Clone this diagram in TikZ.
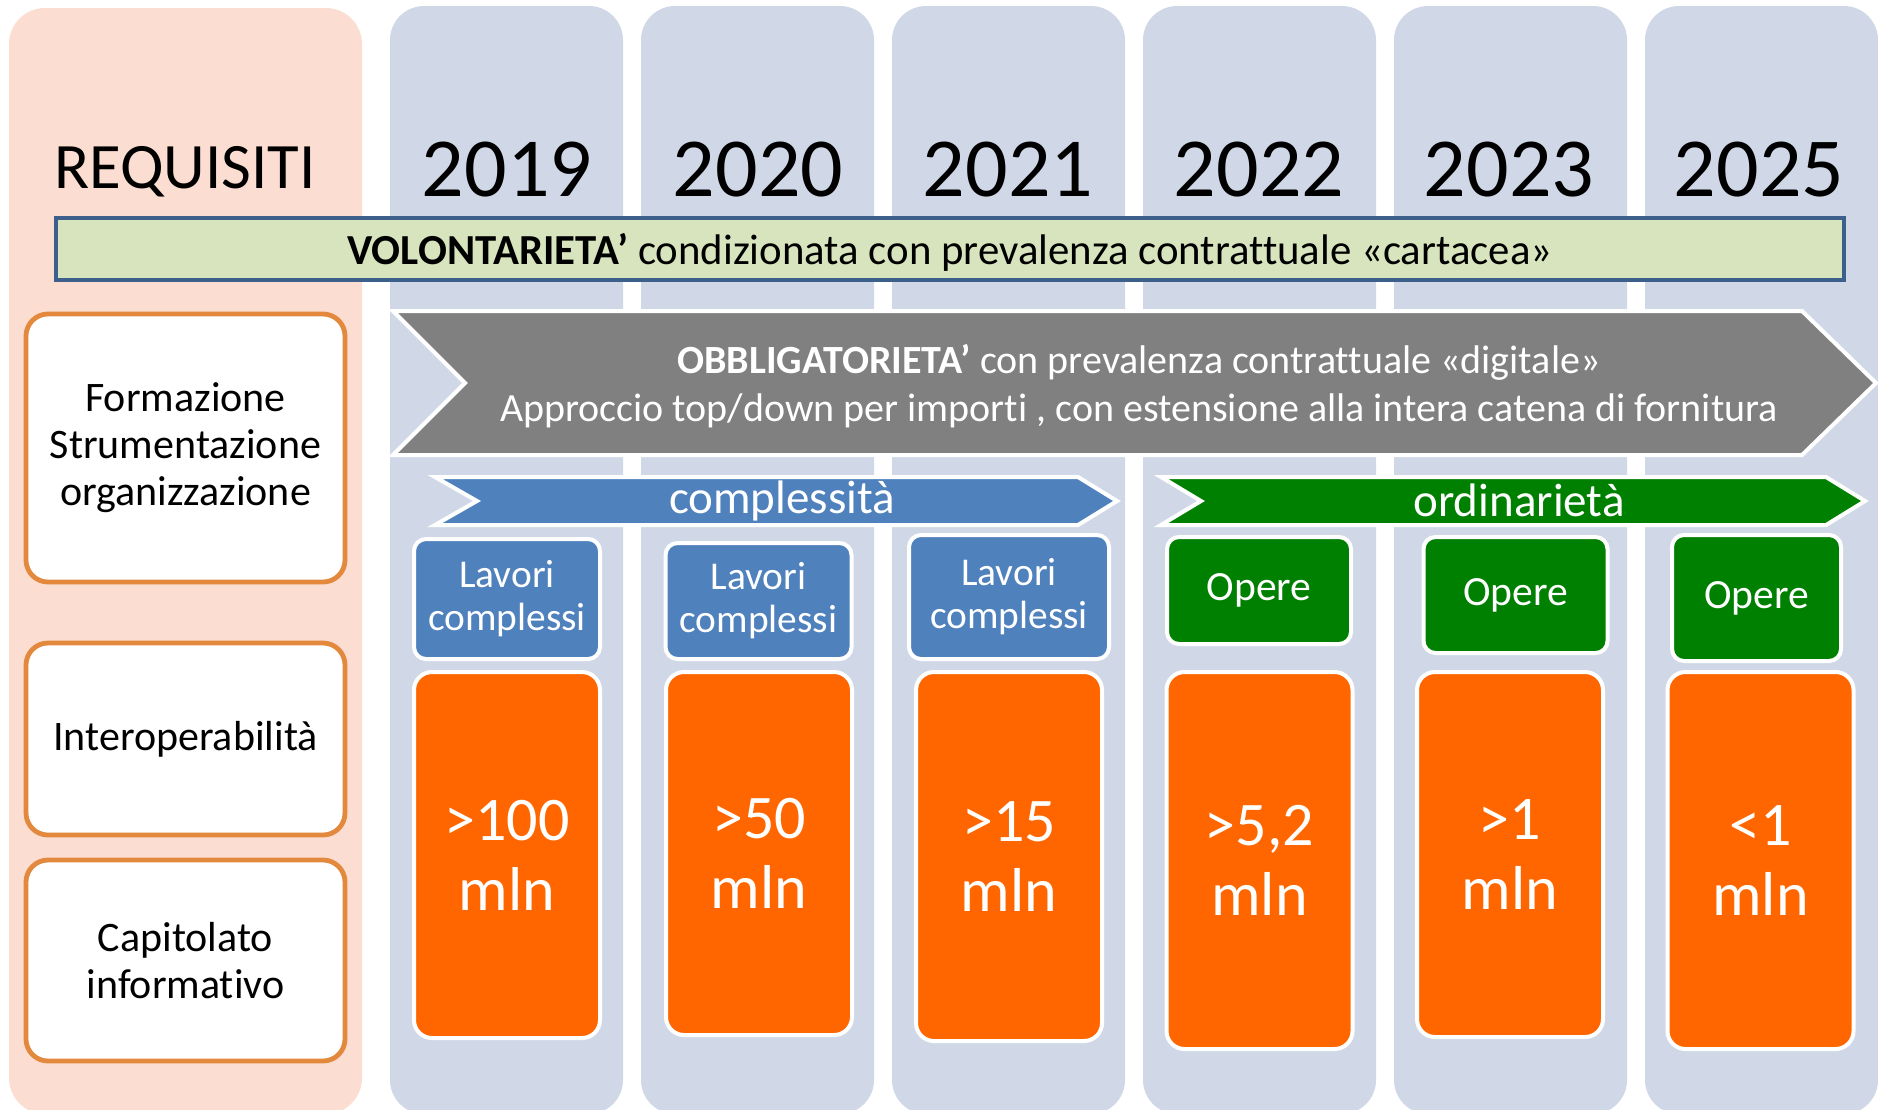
\documentclass[tikz,border=0pt]{standalone}
\usepackage{fontspec}
\setmainfont{Carlito}[Ligatures=NoCommon]
\definecolor{colbg}{RGB}{208,216,232}
\definecolor{pinkbg}{RGB}{251,221,209}
\definecolor{volfill}{RGB}{215,228,189}
\definecolor{voledge}{RGB}{60,95,140}
\definecolor{grayarrow}{RGB}{128,128,128}
\definecolor{bluefill}{RGB}{79,129,189}
\definecolor{greenfill}{RGB}{0,128,0}
\definecolor{orangefill}{RGB}{255,102,0}
\definecolor{reqedge}{RGB}{227,137,62}
\begin{document}
\begin{tikzpicture}[x=0.5pt,y=-0.5pt,
  colstyle/.style={fill=colbg, rounded corners=17pt},
  yearlbl/.style={font=\fontsize{42}{48}\selectfont, text=black},
  reqbox/.style={draw=reqedge, line width=2.4pt, fill=white, rounded corners=11pt,
     minimum width=159.5pt, align=center, text=black,
     font=\fontsize{21}{23.5}\selectfont},
  chev/.style={draw=white, line width=2pt, line join=miter},
  chevlbl/.style={text=white, font=\fontsize{23.5}{26}\selectfont},
  lavbox/.style={draw=white, line width=2pt, fill=bluefill, rounded corners=6pt,
     minimum width=93pt, align=center, text=white, font=\fontsize{19.7}{21.5}\selectfont},
  opbox/.style={draw=white, line width=2pt, fill=greenfill, rounded corners=6pt,
     minimum width=92pt, align=center, text=white, font=\fontsize{20.8}{23}\selectfont},
  mlnbox/.style={draw=white, line width=2pt, fill=orangefill, rounded corners=9pt,
     minimum width=93pt, align=center, text=white, font=\fontsize{31}{35}\selectfont}
]
\useasboundingbox (0,0) rectangle (1878,1109);
% background columns
\fill[pinkbg, rounded corners=18pt] (9,8) rectangle (362,1114);
\foreach \i in {0,...,5} {
  \fill[colstyle] ({390+251*\i},6) rectangle ({623+251*\i},1114);
}
% headings
\node[font=\fontsize{32.4}{36}\selectfont] (req) at (185,172) {REQUISITI};
\node[yearlbl] (y19) at (507,170) {2019};
\node[yearlbl] (y20) at (758,170) {2020};
\node[yearlbl] (y21) at (1008,170) {2021};
\node[yearlbl] (y22) at (1259,170) {2022};
\node[yearlbl] (y23) at (1509,170) {2023};
\node[yearlbl] (y25) at (1759,170) {2025};
% volontarieta bar
\node[draw=voledge, line width=2pt, fill=volfill, minimum width=894pt, minimum height=31pt,
  inner sep=0pt, font=\fontsize{21.4}{24}\selectfont] (vol) at (950,249) {};
\node[font=\fontsize{21.4}{24}\selectfont] (voltxt) at (950,252)
  {\textbf{VOLONTARIETA’} condizionata con prevalenza contrattuale «cartacea»};
% obbligatorieta chevron
\fill[grayarrow] (393,311) -- (1802,311) -- (1876,383) -- (1802,455) -- (393,455) -- (465,383) -- cycle;
\draw[chev] (393,311) -- (1802,311) -- (1876,383) -- (1802,455) -- (393,455) -- (465,383) -- cycle;
\node[text=white, align=center, font=\fontsize{20}{24}\selectfont] (obb) at (1139,386)
  {\textbf{OBBLIGATORIETA’} con prevalenza contrattuale «digitale»\\
   Approccio top/down per importi , con estensione alla intera catena di fornitura};
% complessita chevron
\fill[bluefill] (435,477) -- (1078,477) -- (1117,501) -- (1078,525) -- (435,525) -- (477,501) -- cycle;
\draw[chev] (435,477) -- (1078,477) -- (1117,501) -- (1078,525) -- (435,525) -- (477,501) -- cycle;
\node[chevlbl] (compl) at (782,501) {complessità};
% ordinarieta chevron
\fill[greenfill] (1161,477) -- (1826,477) -- (1865,501) -- (1826,525) -- (1161,525) -- (1201,501) -- cycle;
\draw[chev] (1161,477) -- (1826,477) -- (1865,501) -- (1826,525) -- (1161,525) -- (1201,501) -- cycle;
\node[chevlbl] (ordin) at (1519,500) {ordinarietà};
% requisiti boxes
\node[reqbox, minimum height=134pt] (form) at (185.5,448) {Formazione\\Strumentazione\\organizzazione};
\node[reqbox, minimum height=96pt] (inter) at (185.5,739) {Interoperabilità};
\node[reqbox, minimum height=100.5pt] (capit) at (185.5,960.5) {Capitolato\\informativo};
% lavori complessi
\node[lavbox, minimum height=60pt] (lav1) at (507,599) {Lavori\\complessi};
\node[lavbox, minimum height=58pt] (lav2) at (758.5,601) {Lavori\\complessi};
\node[lavbox, minimum width=100pt, minimum height=62pt] (lav3) at (1009,597) {Lavori\\complessi};
% opere
\node[opbox, minimum height=53.5pt] (op1) at (1259,590.5) {Opere};
\node[opbox, minimum height=58pt] (op2) at (1515.5,595) {Opere};
\node[opbox, minimum width=84.5pt, minimum height=63pt] (op3) at (1756.5,598) {Opere};
% orange boxes
\node[mlnbox, minimum height=183pt] (m1) at (507,855) {>100\\mln};
\node[mlnbox, minimum height=181.5pt] (m2) at (759,853.5) {>50\\mln};
\node[mlnbox, minimum height=184.5pt] (m3) at (1009,856.5) {>15\\mln};
\node[mlnbox, minimum height=188.5pt] (m4) at (1259.5,860.5) {>5,2\\mln};
\node[mlnbox, minimum height=182.5pt] (m5) at (1510,854.5) {>1\\mln};
\node[mlnbox, minimum height=188.5pt] (m6) at (1760.5,860.5) {<1\\mln};
\end{tikzpicture}
\end{document}
